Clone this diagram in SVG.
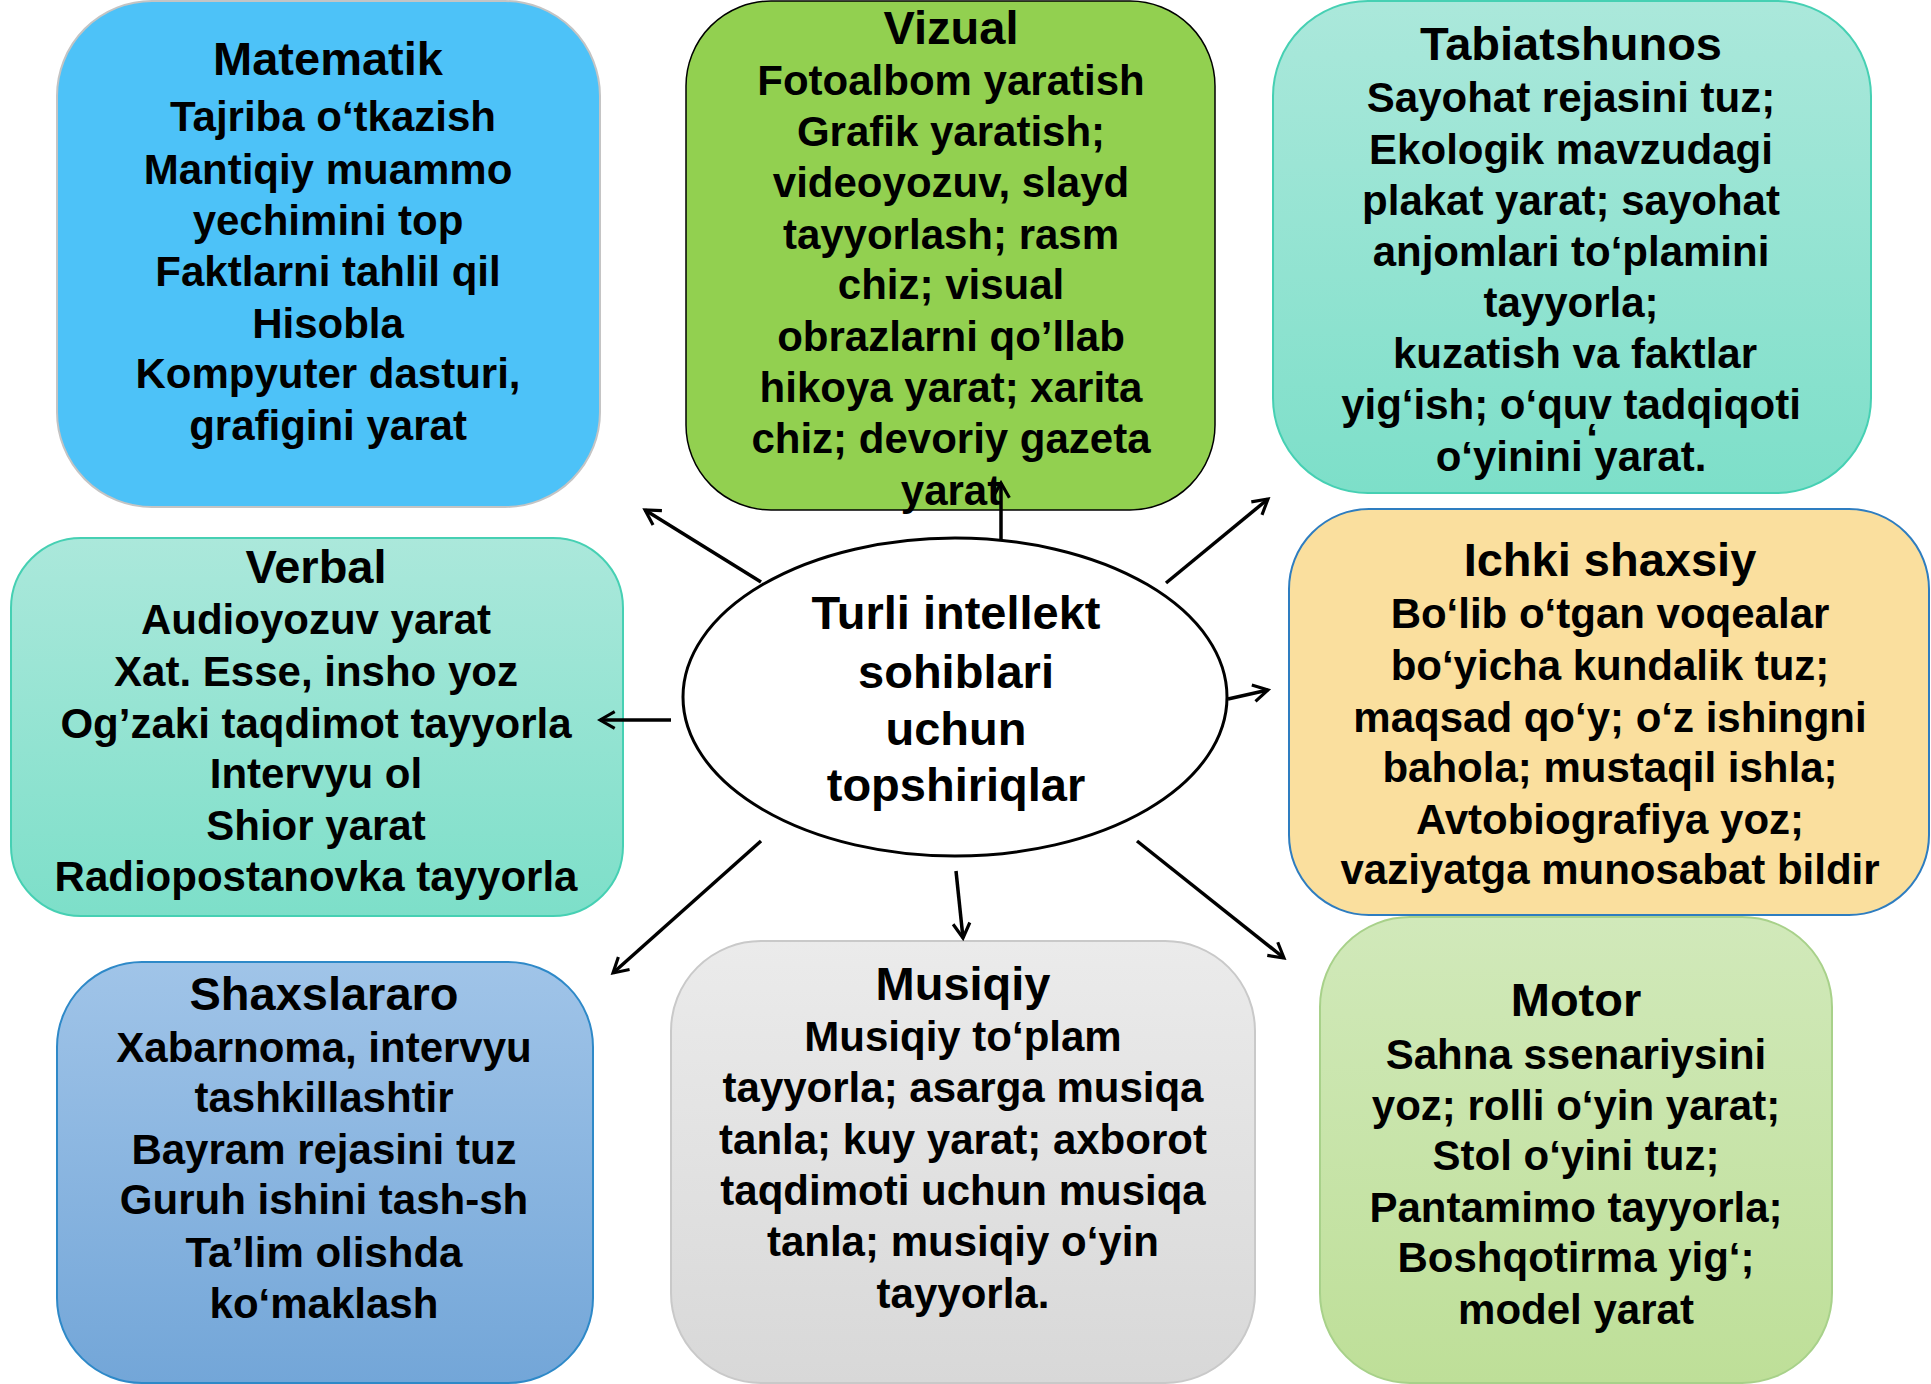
<svg xmlns="http://www.w3.org/2000/svg" width="1931" height="1384" viewBox="0 0 1931 1384">
<defs>
<style>
text{font-family:"Liberation Sans",Arial,sans-serif;font-weight:bold;fill:#000;text-anchor:middle}
.t{font-size:47px}
.b{font-size:42px}
.c{font-size:47px}
.con{stroke:#000;stroke-width:3.5;fill:none;marker-end:url(#ah)}
</style>
<marker id="ah" viewBox="0 0 20 20" refX="17" refY="10" markerWidth="6" markerHeight="6" orient="auto" markerUnits="strokeWidth">
<polyline points="3,2 17,10 3,18" fill="none" stroke="#000" stroke-width="3"/>
</marker>
<linearGradient id="gTeal" x1="0" y1="0" x2="0" y2="1"><stop offset="0" stop-color="#ABE8DB"/><stop offset="1" stop-color="#7DDFC9"/></linearGradient>
<linearGradient id="gBlue" x1="0" y1="0" x2="0" y2="1"><stop offset="0" stop-color="#A0C4E8"/><stop offset="1" stop-color="#73A6D8"/></linearGradient>
<linearGradient id="gGray" x1="0" y1="0" x2="0" y2="1"><stop offset="0" stop-color="#EBEBEB"/><stop offset="1" stop-color="#D8D8D8"/></linearGradient>
<linearGradient id="gGreen" x1="0" y1="0" x2="0" y2="1"><stop offset="0" stop-color="#D1E9BA"/><stop offset="1" stop-color="#BEDF98"/></linearGradient>
</defs>
<rect width="1931" height="1384" fill="#fff"/>

<g id="matematik">
<rect x="57" y="1" width="543" height="506" rx="95" fill="#4DC2F8" stroke="#C4C4C4" stroke-width="2"/>
<text class="t" x="328" y="75">Matematik</text>
<text class="b" x="333" y="131">Tajriba o‘tkazish</text>
<text class="b" x="328" y="184">Mantiqiy muammo</text>
<text class="b" x="328" y="235">yechimini top</text>
<text class="b" x="328" y="286">Faktlarni tahlil qil</text>
<text class="b" x="328" y="338">Hisobla</text>
<text class="b" x="328" y="388">Kompyuter dasturi,</text>
<text class="b" x="328" y="440">grafigini yarat</text>
</g>

<g id="vizual">
<rect x="686" y="1" width="529" height="509" rx="85" fill="#92D050" stroke="#000" stroke-width="1.5"/>
<text class="t" x="951" y="44">Vizual</text>
<text class="b" x="951" y="95">Fotoalbom yaratish</text>
<text class="b" x="951" y="146">Grafik yaratish;</text>
<text class="b" x="951" y="197">videoyozuv, slayd</text>
<text class="b" x="951" y="249">tayyorlash; rasm</text>
<text class="b" x="951" y="299">chiz; visual</text>
<text class="b" x="951" y="351">obrazlarni qo’llab</text>
<text class="b" x="951" y="402">hikoya yarat; xarita</text>
<text class="b" x="951" y="453">chiz; devoriy gazeta</text>
<text class="b" x="951" y="505">yarat</text>
</g>

<g id="tabiatshunos">
<rect x="1273" y="1" width="598" height="492" rx="95" fill="url(#gTeal)" stroke="#46D0B3" stroke-width="2"/>
<text class="t" x="1571" y="60">Tabiatshunos</text>
<text class="b" x="1571" y="112">Sayohat rejasini tuz;</text>
<text class="b" x="1571" y="164">Ekologik mavzudagi</text>
<text class="b" x="1571" y="215">plakat yarat; sayohat</text>
<text class="b" x="1571" y="266">anjomlari to‘plamini</text>
<text class="b" x="1571" y="317">tayyorla;</text>
<text class="b" x="1575" y="368">kuzatish va faktlar</text>
<text class="b" x="1571" y="419">yig‘ish; o‘quv tadqiqoti</text>
<text class="b" x="1571" y="471">o‘yinini yarat.</text>
<text class="b" x="1592" y="453">‘</text>
</g>

<g id="verbal">
<rect x="11" y="538" width="612" height="378" rx="70" fill="url(#gTeal)" stroke="#46D0B3" stroke-width="2"/>
<text class="t" x="316" y="583">Verbal</text>
<text class="b" x="316" y="634">Audioyozuv yarat</text>
<text class="b" x="316" y="686">Xat. Esse, insho yoz</text>
<text class="b" x="316" y="738">Og’zaki taqdimot tayyorla</text>
<text class="b" x="316" y="788">Intervyu ol</text>
<text class="b" x="316" y="840">Shior yarat</text>
<text class="b" x="316" y="891">Radiopostanovka tayyorla</text>
</g>

<g id="center">
<ellipse cx="955" cy="697" rx="272" ry="159" fill="#fff" stroke="#000" stroke-width="3"/>
<text class="c" x="956" y="629">Turli intellekt</text>
<text class="c" x="956" y="688">sohiblari</text>
<text class="c" x="956" y="745">uchun</text>
<text class="c" x="956" y="801">topshiriqlar</text>
</g>

<g id="ichki">
<rect x="1289" y="509" width="640" height="406" rx="80" fill="#FADF9E" stroke="#2E7DC0" stroke-width="2"/>
<text class="t" x="1610" y="576">Ichki shaxsiy</text>
<text class="b" x="1610" y="628">Bo‘lib o‘tgan voqealar</text>
<text class="b" x="1610" y="680">bo‘yicha kundalik tuz;</text>
<text class="b" x="1610" y="732">maqsad qo‘y; o‘z ishingni</text>
<text class="b" x="1610" y="782">bahola; mustaqil ishla;</text>
<text class="b" x="1610" y="834">Avtobiografiya yoz;</text>
<text class="b" x="1610" y="884">vaziyatga munosabat bildir</text>
</g>

<g id="shaxslararo">
<rect x="57" y="962" width="536" height="421" rx="85" fill="url(#gBlue)" stroke="#2E89C8" stroke-width="2"/>
<text class="t" x="324" y="1010">Shaxslararo</text>
<text class="b" x="324" y="1062">Xabarnoma, intervyu</text>
<text class="b" x="324" y="1112">tashkillashtir</text>
<text class="b" x="324" y="1164">Bayram rejasini tuz</text>
<text class="b" x="324" y="1214">Guruh ishini tash-sh</text>
<text class="b" x="324" y="1267">Ta’lim olishda</text>
<text class="b" x="324" y="1318">ko‘maklash</text>
</g>

<g id="musiqiy">
<rect x="671" y="941" width="584" height="442" rx="90" fill="url(#gGray)" stroke="#C9C9C9" stroke-width="2"/>
<text class="t" x="963" y="1000">Musiqiy</text>
<text class="b" x="963" y="1051">Musiqiy to‘plam</text>
<text class="b" x="963" y="1102">tayyorla; asarga musiqa</text>
<text class="b" x="963" y="1154">tanla; kuy yarat; axborot</text>
<text class="b" x="963" y="1205">taqdimoti uchun musiqa</text>
<text class="b" x="963" y="1256">tanla; musiqiy o‘yin</text>
<text class="b" x="963" y="1308">tayyorla.</text>
</g>

<g id="motor">
<rect x="1320" y="917" width="512" height="466" rx="90" fill="url(#gGreen)" stroke="#A8D18A" stroke-width="2"/>
<text class="t" x="1576" y="1016">Motor</text>
<text class="b" x="1576" y="1069">Sahna ssenariysini</text>
<text class="b" x="1576" y="1120">yoz; rolli o‘yin yarat;</text>
<text class="b" x="1576" y="1170">Stol o‘yini tuz;</text>
<text class="b" x="1576" y="1222">Pantamimo tayyorla;</text>
<text class="b" x="1576" y="1272">Boshqotirma yig‘;</text>
<text class="b" x="1576" y="1324">model yarat</text>
</g>

<g id="connectors">
<line class="con" x1="761" y1="582" x2="645" y2="510"/>
<line class="con" x1="1001" y1="540" x2="1001" y2="483"/>
<line class="con" x1="1166" y1="583" x2="1268" y2="499"/>
<line class="con" x1="1228" y1="699" x2="1268" y2="690"/>
<line class="con" x1="671" y1="720" x2="600" y2="720"/>
<line class="con" x1="761" y1="841" x2="613" y2="973"/>
<line class="con" x1="956" y1="871" x2="963" y2="938"/>
<line class="con" x1="1137" y1="841" x2="1284" y2="958"/>
</g>
</svg>
